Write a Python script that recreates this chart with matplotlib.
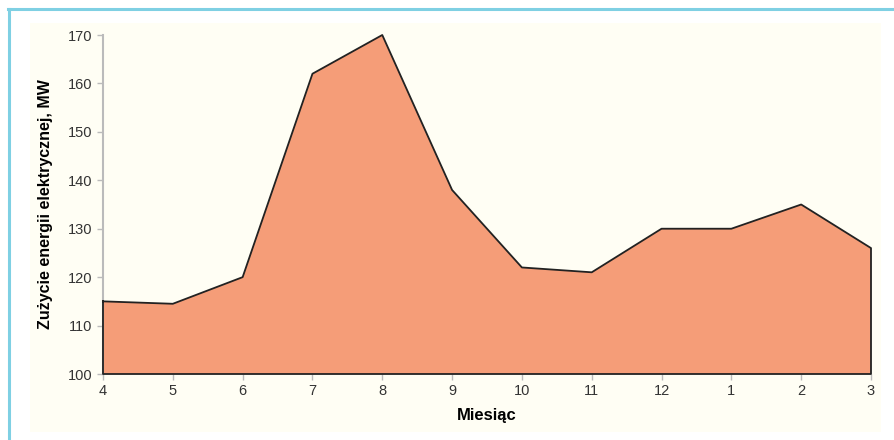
import matplotlib.pyplot as plt
from matplotlib.patches import Rectangle
from matplotlib.lines import Line2D

plt.rcParams['font.family'] = ['Liberation Sans', 'DejaVu Sans']

# Dane: miesiące i zużycie energii
miesiace = ['4', '5', '6', '7', '8', '9', '10', '11', '12', '1', '2', '3']
zuzycie = [115, 114.5, 120, 162, 170, 138, 122, 121, 130, 130, 135, 126]

W, H = 894, 440
fig = plt.figure(figsize=(W / 100, H / 100), dpi=100)
fig.patch.set_facecolor('white')

# kremowe tło panelu
fig.patches.append(Rectangle((30 / W, 1 - 432 / H), (881 - 30) / W, (432 - 23) / H,
                             transform=fig.transFigure, facecolor='#fffef4',
                             edgecolor='none', zorder=-5))
# niebieska ramka (góra i lewa strona)
fig.lines.append(Line2D([8 / W, 1], [1 - 9.5 / H, 1 - 9.5 / H], transform=fig.transFigure,
                        color='#7fd0e3', lw=2.2, zorder=-5))
fig.lines.append(Line2D([8.5 / W, 8.5 / W], [1 - 9.5 / H, 0], transform=fig.transFigure,
                        color='#7fd0e3', lw=2.2, zorder=-5))

ax = fig.add_axes([103 / W, 1 - 374 / H, (871 - 103) / W, (374 - 35) / H])
ax.set_facecolor('none')

x = list(range(len(miesiace)))
ax.fill_between(x, zuzycie, 100, facecolor='#f59d78', edgecolor='none', zorder=2)
ax.plot(x + [x[-1], x[0], x[0]], zuzycie + [100, 100, zuzycie[0]],
        color='#222222', lw=1.3, zorder=3, clip_on=False)

ax.set_xlim(0, len(miesiace) - 1)
ax.set_ylim(100, 170)
ax.set_xticks(x)
ax.set_xticklabels(miesiace)
ax.set_yticks(range(100, 171, 10))

for s in ['top', 'right', 'bottom']:
    ax.spines[s].set_visible(False)
ax.spines['left'].set_color('#bbbbbb')
ax.spines['left'].set_linewidth(1.5)
ax.tick_params(axis='both', colors='#bbbbbb', labelcolor='#333333',
               labelsize=10.5, length=4, width=1)

ax.set_xlabel('Miesiąc', fontsize=12, fontweight='bold', labelpad=7)
ax.set_ylabel('Zużycie energii elektrycznej, MW', fontsize=11.5, fontweight='bold',
              labelpad=11)

plt.savefig('out.png', dpi=100)
